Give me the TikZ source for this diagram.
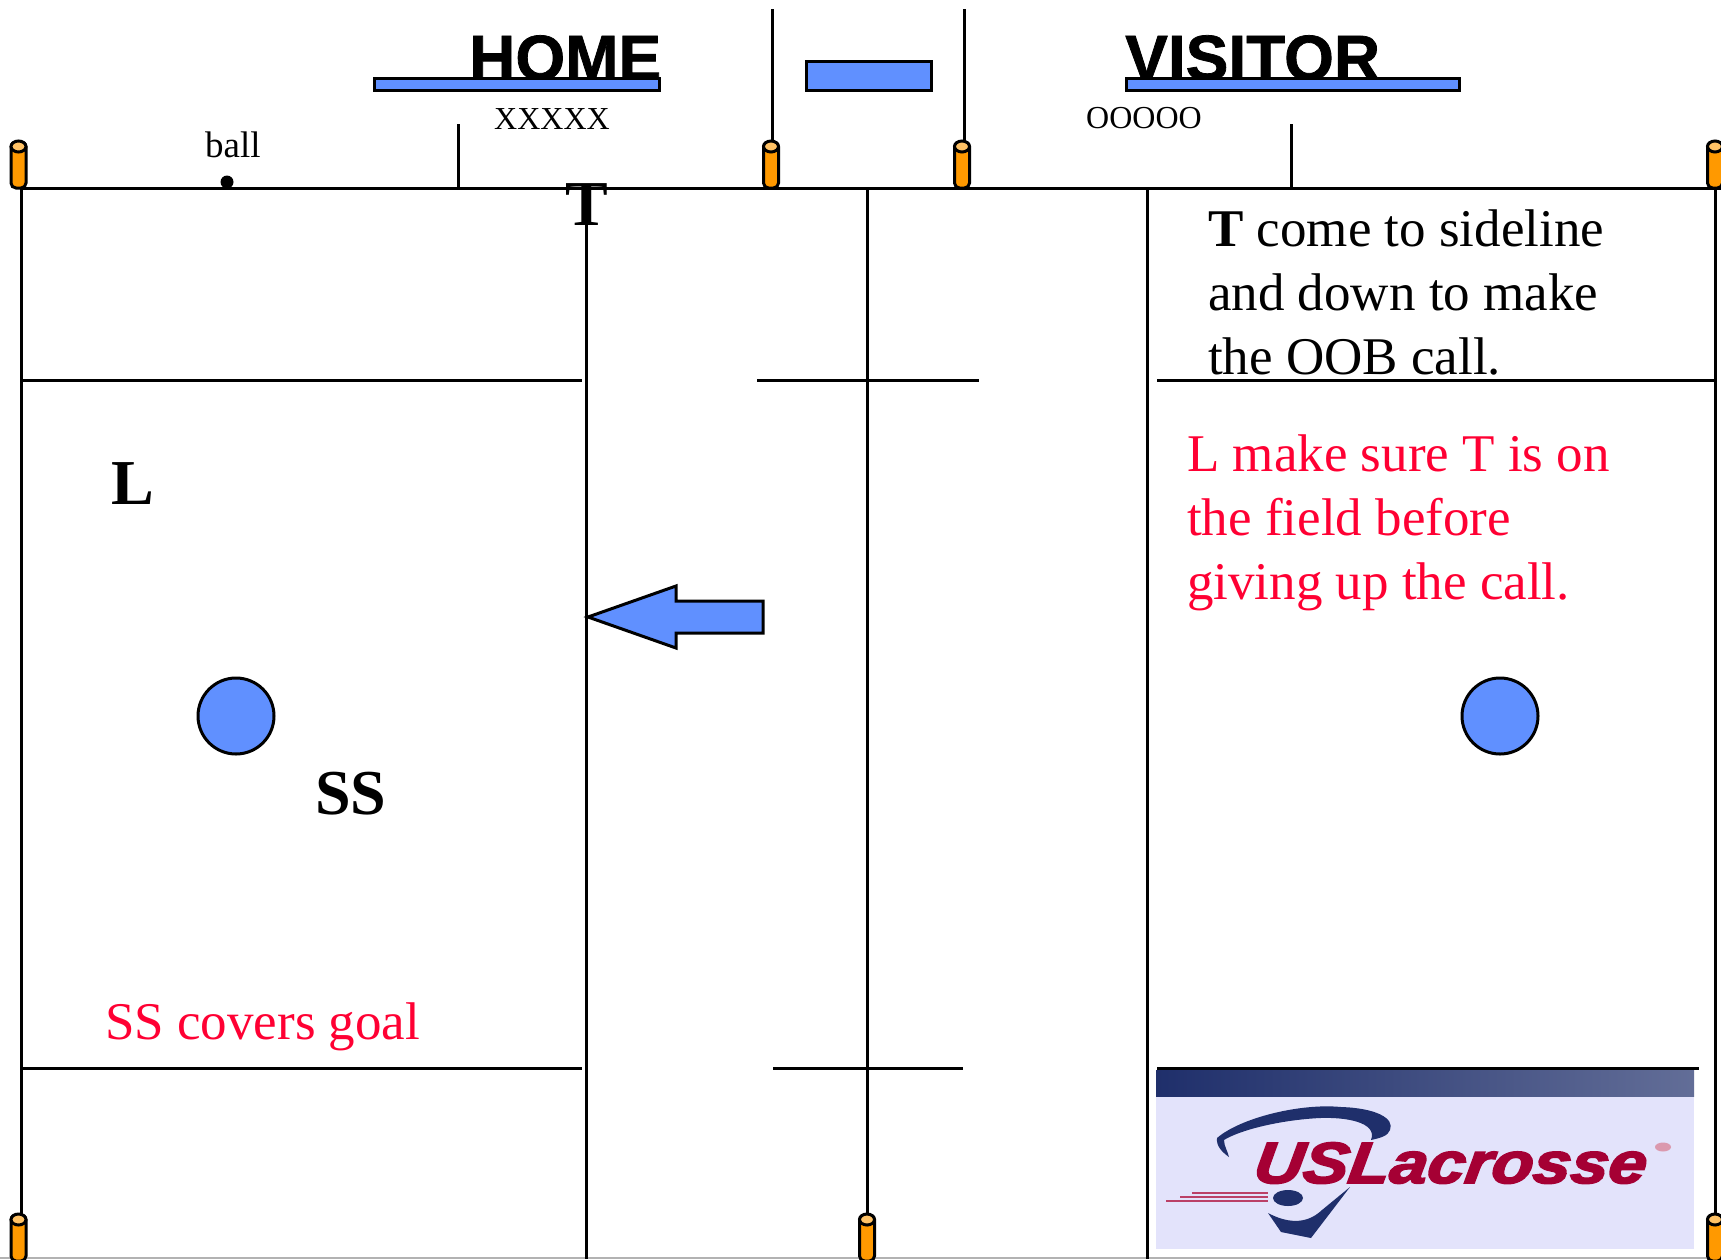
\documentclass[tikz,border=0pt]{standalone}
\usepackage{fontspec}
\setmainfont{Liberation Serif}
\newfontfamily\headfont{Liberation Sans}[FakeBold=1.2]
\newfontfamily\logofont{Liberation Sans}[FakeBold=3, FakeSlant=0.12]
\usetikzlibrary{shapes.geometric}
\definecolor{fieldblue}{HTML}{6090FF}
\definecolor{coneorange}{HTML}{FF9900}
\definecolor{conetop}{HTML}{FFC266}
\definecolor{callred}{HTML}{FF0033}
\definecolor{logored}{HTML}{A50034}
\definecolor{logonavy}{HTML}{1F2F6B}
\definecolor{logoback}{HTML}{E3E3FB}
\tikzset{
  fieldline/.style={line width=3pt},
  bluebox/.style={draw, line width=3pt, fill=fieldblue},
  cone/.style={draw, line width=3pt, fill=coneorange, rounded corners=5pt, minimum width=15pt, minimum height=46pt, inner sep=0pt},
  conecap/.style={draw, line width=3pt, fill=conetop, ellipse, minimum width=15pt, minimum height=11pt, inner sep=0pt},
  lbl/.style={anchor=base west, inner sep=0pt},
  head/.style={lbl, font=\headfont\bfseries\fontsize{64}{64}\selectfont},
  small/.style={lbl, font=\fontsize{32}{32}\selectfont},
  ref/.style={lbl, font=\bfseries\fontsize{64}{64}\selectfont},
  note/.style={lbl, font=\fontsize{53}{53}\selectfont},
  rednote/.style={note, text=callred}
}
\begin{document}
\begin{tikzpicture}[x=1pt, y=-1pt]
    \useasboundingbox (0,0) rectangle (1721,1259);
    \fill[white] (0,0) rectangle (1721,1259);
    % field lines
    \coordinate (tl) at (21.5,188); \coordinate (tr) at (1721,188); \coordinate (bl) at (21.5,1259);
    \coordinate (gl) at (0,1258); \coordinate (gr) at (1721,1258);
    \draw[black!30, line width=1.5pt] (gl) -- (gr);
    \draw[fieldline] (tl) -- (tr); \draw[fieldline] (tl) -- (bl);
    \foreach \n/\x in {a/586, b/867, c/1147, d/1715} {
        \coordinate (\n t) at (\x,188); \coordinate (\n b) at (\x,1259);
        \draw[fieldline] (\n t) -- (\n b);
    }
    \foreach \n/\xa/\xb/\y in {p/20/582/380, q/757/979/380, r/1157/1715/380, s/20/582/1068, t/773/963/1068, u/1157/1699/1068} {
        \coordinate (\n l) at (\xa,\y); \coordinate (\n r) at (\xb,\y);
        \draw[fieldline] (\n l) -- (\n r);
    }
    \foreach \n/\x/\ya/\yb in {e/458/124/188, f/1291/124/188, g/772/9/145, h/964/9/145} {
        \coordinate (\n u) at (\x,\ya); \coordinate (\n d) at (\x,\yb);
        \draw[fieldline] (\n u) -- (\n d);
    }
    % team names and benches
    \node[head] (home) at (469,80) {HOME}; \node[head] (visitor) at (1125,80) {VISITOR};
    \draw[bluebox] (374,78) rectangle (659,90); \draw[bluebox] (806,61) rectangle (931,90); \draw[bluebox] (1126,78) rectangle (1459,90);
    \node[small] (xs) at (494,129) {XXXXX}; \node[small] (os) at (1086,128) {OOOOO};
    \node[lbl, font=\fontsize{37}{37}\selectfont] (balllbl) at (205,157) {ball}; \node[circle, fill, minimum size=13pt, inner sep=0pt] (ball) at (227,182) {};
    % cones
    \foreach \n/\x/\y in {1/18.5/165, 2/771/165, 3/962/165, 4/1715/165, 5/18.5/1238, 6/867/1238, 7/1715/1238} {
        \node[cone] (c\n) at (\x,\y) {};
        \node[conecap, yshift=-6pt] (k\n) at (c\n.north) {};
    }
    % goals and arrow
    \node[circle, draw, line width=3pt, fill=fieldblue, minimum size=76pt, inner sep=0pt] (goall) at (236,716) {};
    \node[circle, draw, line width=3pt, fill=fieldblue, minimum size=76pt, inner sep=0pt] (goalr) at (1500,716) {};
    \draw[bluebox, line join=miter] (588,617) -- (676,586) -- (676,601) -- (763,601) -- (763,633) -- (676,633) -- (676,648) -- cycle;
    % officials
    \node[ref] (t) at (565,225) {T}; \node[ref] (l) at (111,504) {L}; \node[ref] (ss) at (315,814) {SS};
    \node[note] (n1) at (1208,246) {\textbf{T} come to sideline}; \node[note] (n2) at (1208,310) {and down to make}; \node[note] (n3) at (1208,374) {the OOB call.};
    \node[rednote] (n4) at (1187,471) {L make sure T is on}; \node[rednote] (n5) at (1187,535) {the field before}; \node[rednote] (n6) at (1187,599) {giving up the call.};
    \node[rednote] (n7) at (105,1039) {SS covers goal};
    % logo
    \fill[logoback] (1156,1070) rectangle (1694,1249);
    \shade[left color=logonavy, right color=logonavy!70!white] (1156,1070) rectangle (1694,1096);
    \fill[logonavy] (1217,1138) .. controls (1240,1118) and (1300,1103) .. (1341,1107) .. controls (1375,1108) and (1395,1118) .. (1390,1130) .. controls (1388,1136) and (1380,1138) .. (1371,1140) .. controls (1378,1122) and (1345,1117) .. (1320,1118) .. controls (1280,1120) and (1240,1130) .. (1224,1140) .. controls (1224,1146) and (1228,1152) .. (1229,1157) .. controls (1222,1152) and (1216,1146) .. (1217,1138) -- cycle;
    \fill[logonavy] (1350,1187) -- (1311,1238) -- (1281,1232) -- (1268,1213) .. controls (1285,1222) and (1305,1226) .. (1322,1210) -- cycle;
    \node[ellipse, fill=logonavy, minimum width=30pt, minimum height=16pt, inner sep=0pt] (lball) at (1288,1198) {};
    \coordinate (s1) at (1192,1193); \coordinate (s2) at (1268,1193); \coordinate (s3) at (1180,1197); \coordinate (s4) at (1268,1197); \coordinate (s5) at (1166,1201); \coordinate (s6) at (1268,1201);
    \draw[logored!75!white, line width=1.4pt] (s1) -- (s2); \draw[logored!75!white, line width=1.4pt] (s3) -- (s4); \draw[logored!75!white, line width=1.4pt] (s5) -- (s6);
    \node[anchor=base west, inner sep=0pt, text=logored, xscale=1.17, font=\logofont\bfseries\itshape\fontsize{58}{58}\selectfont] (uslax) at (1252,1183) {USLacrosse};
    \node[ellipse, fill=logored!40!white, minimum width=16pt, minimum height=9pt, inner sep=0pt] (regd) at (1663,1147) {};
\end{tikzpicture}
\end{document}
